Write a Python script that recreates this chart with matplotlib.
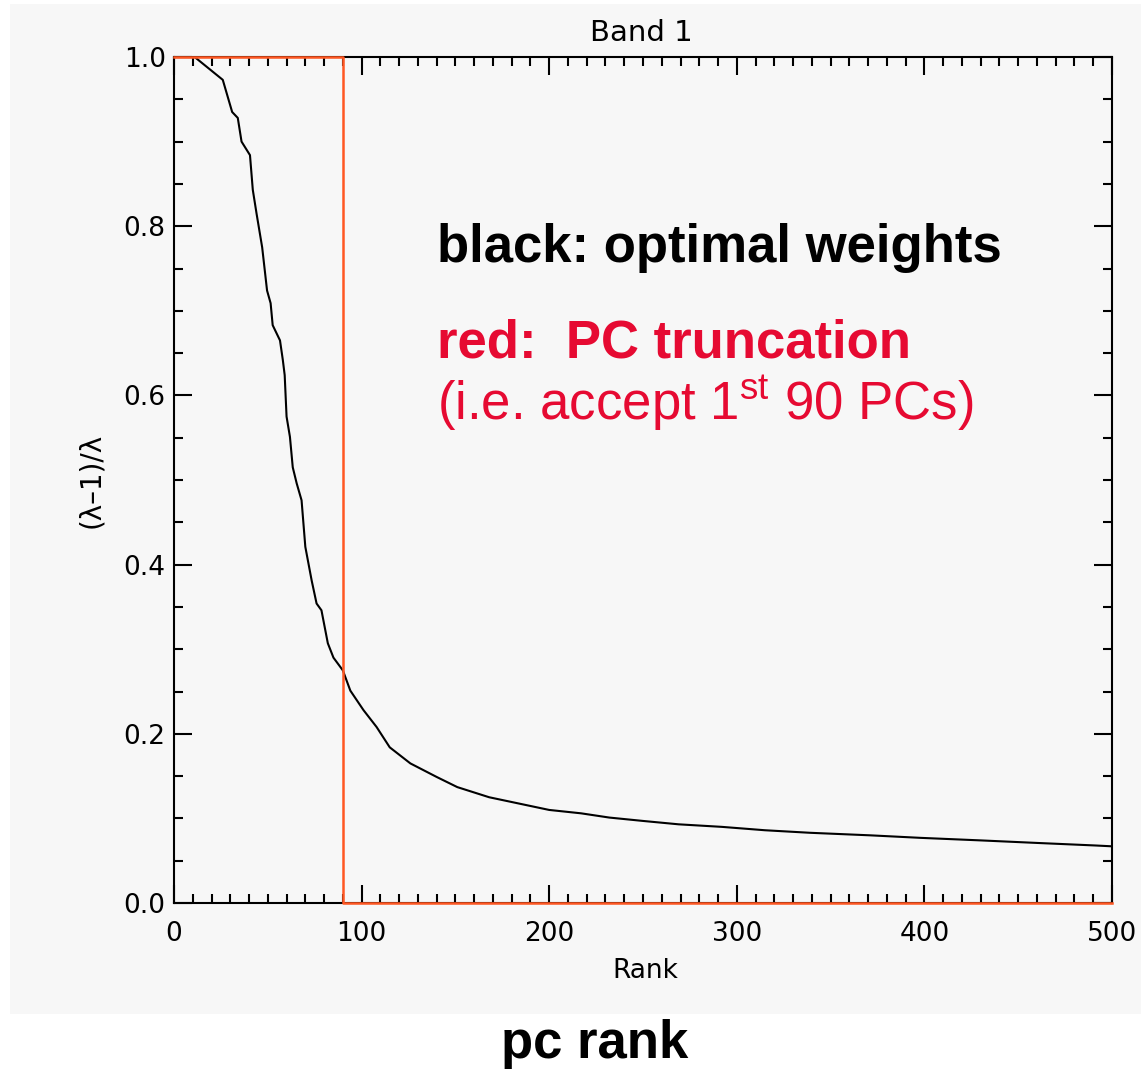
import matplotlib
matplotlib.use('Agg')
import matplotlib.pyplot as plt
from matplotlib.patches import Rectangle
from matplotlib.ticker import MultipleLocator, FormatStrFormatter

# Optimal weights (lambda-1)/lambda vs PC rank
rank = [1, 11, 21, 26, 31, 34, 36, 40.5, 42, 44, 47, 49.6, 51.5, 52.6, 56.5,
        58, 59, 60, 61.8, 63.3, 65.4, 68, 70, 73.4, 76, 78.6, 82, 85, 90, 94,
        101, 108, 115, 126, 140, 151, 168, 200, 217, 232, 250, 269, 292, 315,
        339, 371, 398, 430, 460, 491, 500]
weight = [1.0, 1.0, 0.982, 0.973, 0.935, 0.928, 0.90, 0.884, 0.843, 0.815,
          0.775, 0.724, 0.709, 0.683, 0.665, 0.642, 0.624, 0.575, 0.551, 0.515,
          0.496, 0.476, 0.421, 0.381, 0.354, 0.346, 0.307, 0.29, 0.275, 0.251,
          0.228, 0.208, 0.184, 0.165, 0.149, 0.137, 0.125, 0.110, 0.106, 0.101,
          0.097, 0.093, 0.090, 0.086, 0.083, 0.080, 0.077, 0.074, 0.071, 0.068,
          0.067]

# PC truncation: accept first 90 PCs
trunc_rank = [0, 90, 90, 500]
trunc_weight = [1, 1, 0, 0]

W, H = 1141, 1071
bg = '#f7f7f7'
line_red = '#ff5722'
text_red = '#e60a32'

plt.rcParams['mathtext.fontset'] = 'custom'
plt.rcParams['mathtext.rm'] = 'Liberation Sans'

fig = plt.figure(figsize=(W / 100, H / 100), dpi=100)
fig.patch.set_facecolor('white')
fig.patches.append(Rectangle((10 / W, 1 - 1014 / H), 1131 / W, 1010 / H,
                             transform=fig.transFigure, facecolor=bg,
                             edgecolor='none', zorder=-10))

ax = fig.add_axes([174 / W, 1 - 903 / H, (1112 - 174) / W, (903 - 57) / H])
ax.set_facecolor(bg)

ax.plot(rank, weight, color='black', lw=1.5)
ax.plot(trunc_rank, trunc_weight, color=line_red, lw=1.8, clip_on=False, zorder=5)

ax.set_xlim(0, 500)
ax.set_ylim(0, 1)
ax.xaxis.set_major_locator(MultipleLocator(100))
ax.xaxis.set_minor_locator(MultipleLocator(10))
ax.yaxis.set_major_locator(MultipleLocator(0.2))
ax.yaxis.set_minor_locator(MultipleLocator(0.05))
ax.yaxis.set_major_formatter(FormatStrFormatter('%.1f'))
ax.tick_params(which='both', direction='in', top=True, right=True, width=1.5)
ax.tick_params(which='major', length=13)
ax.tick_params(which='minor', length=6.5)
ax.tick_params(axis='x', labelsize=19, pad=13)
ax.tick_params(axis='y', labelsize=19, pad=6)
for s in ax.spines.values():
    s.set_linewidth(1.5)

fig.text(641 / W, 1 - 41 / H, 'Band 1', fontsize=21, ha='center', va='baseline')
fig.text(645 / W, 1 - 971 / H, 'Rank', fontsize=19, ha='center', va='center')
fig.text(91 / W, 1 - 480 / H, '(λ–1)/λ', fontsize=20, rotation=90,
         ha='center', va='center')

ann = dict(family='Liberation Sans', fontsize=38, ha='left', va='baseline')
fig.text(437 / W, 1 - 262 / H, 'black: optimal weights', color='black',
         fontweight='bold', **ann)
fig.text(437 / W, 1 - 358 / H, 'red:  PC truncation', color=text_red,
         fontweight='bold', **ann)
fig.text(437 / W, 1 - 420 / H, r'(i.e. accept 1$^{\mathrm{st}}$ 90 PCs)',
         color=text_red, **ann)

fig.text(595 / W, 1 - 1058 / H, 'pc rank', family='Liberation Sans',
         fontsize=38, fontweight='bold', ha='center', va='baseline')

fig.savefig('out.png', dpi=100, facecolor=fig.get_facecolor())
